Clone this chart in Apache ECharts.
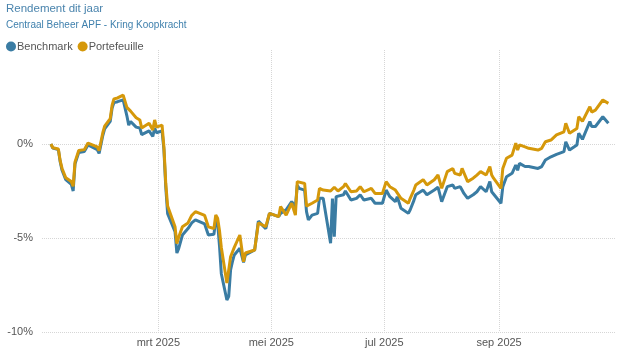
<!DOCTYPE html>
<html>
<head>
<meta charset="utf-8">
<script src="https://cdn.jsdelivr.net/npm/echarts@6/dist/echarts.min.js"></script>
<style>html,body{margin:0;padding:0;background:#fff}#c{width:636px;height:362px}</style>
</head>
<body>
<div id="c"></div>
<script>
const titleText = 'Rendement dit jaar';
const subtitleText = 'Centraal Beheer APF - Kring Koopkracht';
const seriesNames = ['Benchmark', 'Portefeuille'];
const xTickDates = ['2025-03-01', '2025-05-01', '2025-07-01', '2025-09-01'];
const xTickLabels = ['mrt 2025', 'mei 2025', 'jul 2025', 'sep 2025'];
const yTicks = [-10, -5, 0];

const dates = [
'2025-01-02','2025-01-03','2025-01-06','2025-01-07','2025-01-08','2025-01-10','2025-01-13','2025-01-14','2025-01-15','2025-01-17',
'2025-01-20','2025-01-22','2025-01-23','2025-01-27','2025-01-28','2025-01-29','2025-01-30','2025-01-31','2025-02-03','2025-02-04',
'2025-02-05','2025-02-06','2025-02-07','2025-02-10','2025-02-11','2025-02-12','2025-02-13','2025-02-14','2025-02-17','2025-02-19',
'2025-02-20','2025-02-21','2025-02-24','2025-02-26','2025-02-27','2025-02-28','2025-03-03','2025-03-04','2025-03-05','2025-03-06',
'2025-03-10','2025-03-11','2025-03-12','2025-03-14','2025-03-17','2025-03-19','2025-03-20','2025-03-21','2025-03-26','2025-03-28',
'2025-03-31','2025-04-01','2025-04-02','2025-04-03','2025-04-04','2025-04-07','2025-04-08','2025-04-09','2025-04-10','2025-04-11',
'2025-04-14','2025-04-16','2025-04-17','2025-04-22','2025-04-24','2025-04-28','2025-04-30','2025-05-05','2025-05-06','2025-05-09',
'2025-05-12','2025-05-14','2025-05-15','2025-05-16','2025-05-19','2025-05-20','2025-05-21','2025-05-23','2025-05-26','2025-05-27',
'2025-05-29','2025-05-30','2025-06-02','2025-06-03','2025-06-04','2025-06-05','2025-06-06','2025-06-09','2025-06-10','2025-06-11',
'2025-06-13','2025-06-16','2025-06-18','2025-06-20','2025-06-24','2025-06-26','2025-06-27','2025-06-30','2025-07-02','2025-07-04',
'2025-07-07','2025-07-08','2025-07-10','2025-07-14','2025-07-15','2025-07-17','2025-07-18','2025-07-22','2025-07-24','2025-07-28',
'2025-07-30','2025-08-01','2025-08-04','2025-08-05','2025-08-07','2025-08-08','2025-08-11','2025-08-12','2025-08-13','2025-08-15',
'2025-08-18','2025-08-20','2025-08-22','2025-08-25','2025-08-27','2025-08-28','2025-08-29','2025-09-02','2025-09-03','2025-09-05',
'2025-09-08','2025-09-10','2025-09-11','2025-09-12','2025-09-15','2025-09-17','2025-09-22','2025-09-23','2025-09-24','2025-09-26',
'2025-09-29','2025-10-02','2025-10-06','2025-10-07','2025-10-09','2025-10-13','2025-10-14','2025-10-16','2025-10-20','2025-10-21',
'2025-10-23','2025-10-27','2025-10-28','2025-10-30'
];

const benchmark = [
0.0,-0.22,-0.3,-0.95,-1.4,-1.9,-2.15,-2.5,-1.05,-0.45,
-0.4,-0.05,0.0,-0.3,-0.5,-0.6,0.45,0.8,1.2,1.9,
2.2,2.2,2.25,2.35,2.4,1.5,1.0,1.2,0.9,0.85,
0.5,0.5,0.7,0.4,0.85,0.6,0.7,-0.3,-2.3,-3.7,
-4.66,-5.8,-5.55,-4.84,-4.5,-4.2,-4.3,-4.04,-4.25,-4.84,
-4.8,-4.04,-4.2,-5.4,-6.9,-8.3,-8.1,-6.7,-6.26,-5.9,
-5.55,-6.3,-5.9,-5.64,-4.1,-4.5,-3.69,-3.86,-3.69,-3.5,
-3.07,-3.33,-2.2,-2.36,-2.45,-3.6,-4.04,-3.78,-3.69,-2.89,
-2.89,-2.95,-5.28,-2.9,-4.93,-2.8,-2.8,-2.7,-2.5,-2.45,
-2.98,-2.89,-2.7,-2.98,-2.89,-3.15,-3.07,-3.15,-2.45,-2.8,
-3.07,-2.8,-3.42,-3.69,-3.5,-3.0,-2.7,-2.45,-2.7,-2.45,
-2.3,-3.07,-2.27,-2.36,-2.18,-2.36,-2.27,-2.45,-2.63,-2.89,
-2.7,-2.54,-2.27,-2.54,-2.0,-2.54,-2.63,-3.15,-2.27,-1.74,
-1.56,-1.12,-1.4,-1.03,-1.2,-1.2,-1.3,-1.38,-1.2,-0.85,
-0.68,-0.55,-0.41,0.12,-0.32,-0.05,0.57,0.25,1.19,0.93,
0.93,1.45,1.4,1.1
];

const portefeuille = [
0.0,-0.2,-0.27,-0.9,-1.3,-1.8,-2.0,-2.25,-0.95,-0.35,
-0.3,0.05,0.12,-0.15,-0.35,-0.4,0.6,0.95,1.35,2.05,
2.4,2.45,2.45,2.6,2.55,1.95,2.0,1.75,1.4,1.28,
0.85,0.9,1.1,0.75,1.28,0.9,1.0,-0.15,-2.1,-3.3,
-4.4,-5.3,-4.95,-4.4,-4.2,-3.8,-3.9,-3.6,-3.8,-4.4,
-4.5,-3.78,-3.95,-4.6,-5.5,-7.4,-7.35,-6.0,-5.9,-5.5,
-4.84,-6.26,-5.8,-5.64,-4.2,-4.4,-3.69,-3.86,-3.33,-3.78,
-3.15,-3.78,-2.0,-2.05,-2.1,-3.3,-3.35,-3.15,-2.98,-2.36,
-2.45,-2.45,-2.5,-2.4,-2.3,-2.2,-2.5,-2.27,-2.1,-2.0,
-2.54,-2.5,-2.27,-2.54,-2.36,-2.63,-2.54,-2.63,-2.0,-2.27,
-2.45,-2.36,-2.89,-3.15,-2.89,-2.45,-2.18,-1.9,-2.18,-1.9,
-1.65,-2.36,-1.47,-1.56,-1.3,-1.56,-1.65,-1.3,-1.4,-2.0,
-1.82,-1.65,-1.47,-1.65,-1.2,-1.65,-1.82,-2.36,-1.3,-0.76,
-0.59,0.04,-0.32,-0.05,-0.15,-0.23,-0.32,-0.41,-0.23,0.12,
0.21,0.48,0.65,1.1,0.57,0.83,1.45,1.2,1.98,1.7,
1.8,2.34,2.43,2.16
];

function localTime(s) {
  const p = s.split(/[- :]/).map(Number);
  return new Date(p[0], p[1] - 1, p[2], p[3] || 0, p[4] || 0).getTime();
}
const tickTimes = xTickDates.map(localTime);
const labelMap = {};
tickTimes.forEach((t, i) => { labelMap[t] = xTickLabels[i]; });

const chart = echarts.init(document.getElementById('c'), null, {renderer: 'canvas'});
chart.setOption({
  animation: false,
  backgroundColor: '#fff',
  color: ['#3a7ca3', '#d5980a'],
  title: [
    {text: titleText, left: 6, top: 3, padding: 0,
     textStyle: {fontSize: 11.5, fontWeight: 'normal', color: '#4a84ad', fontFamily: 'Liberation Sans, Arial, sans-serif'}},
    {text: subtitleText, left: 6, top: 20, padding: 0,
     textStyle: {fontSize: 10, fontWeight: 'normal', color: '#3f80ad', fontFamily: 'Liberation Sans, Arial, sans-serif'}}
  ],
  legend: {
    data: seriesNames, left: 6, top: 41, padding: 0, itemGap: 5,
    icon: 'circle', itemWidth: 10, itemHeight: 10,
    textStyle: {fontSize: 11, color: '#555', fontFamily: 'Liberation Sans, Arial, sans-serif', padding: [0, 0, 0, -4]}
  },
  grid: {left: 42, right: 21, top: 50, bottom: 30, containLabel: false, outerBoundsMode: 'none'},
  xAxis: {
    type: 'value',
    min: localTime('2024-12-28 04:00'),
    max: localTime('2025-11-02 14:00'),
    axisLine: {show: false},
    axisTick: {show: false, customValues: tickTimes},
    axisLabel: {
      customValues: tickTimes, margin: 5, fontSize: 11, color: '#555',
      fontFamily: 'Liberation Sans, Arial, sans-serif',
      formatter: (v) => labelMap[v] || ''
    },
    splitLine: {show: true, lineStyle: {type: 'dotted', color: '#d6d6d6', width: 1}}
  },
  yAxis: {
    type: 'value', min: -10, max: 5, interval: 5,
    axisLine: {show: false},
    axisTick: {show: false, customValues: yTicks},
    axisLabel: {customValues: yTicks, margin: 9, fontSize: 11, color: '#555',
      fontFamily: 'Liberation Sans, Arial, sans-serif',
      formatter: (v) => v + '%'},
    splitLine: {show: true, lineStyle: {type: 'dotted', color: '#d6d6d6', width: 1}}
  },
  series: [
    {name: seriesNames[0], type: 'line', showSymbol: false, symbol: 'none',
     lineStyle: {width: 3}, data: dates.map((d, i) => [localTime(d), benchmark[i]])},
    {name: seriesNames[1], type: 'line', showSymbol: false, symbol: 'none',
     lineStyle: {width: 3}, data: dates.map((d, i) => [localTime(d), portefeuille[i]])}
  ]
});
</script>
</body>
</html>
